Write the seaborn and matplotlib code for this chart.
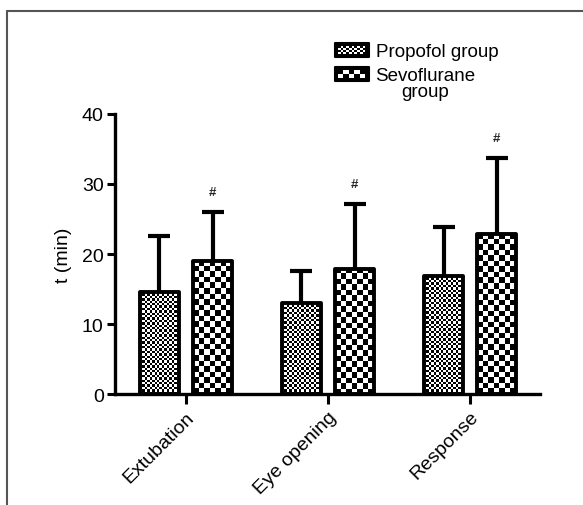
import numpy as np
import pandas as pd
import matplotlib
matplotlib.use("Agg")
import matplotlib.pyplot as plt
import seaborn as sns
from matplotlib.patches import Rectangle, Patch
from matplotlib.lines import Line2D
from matplotlib.legend_handler import HandlerBase

# ---- data ----
categories = ["Extubation", "Eye opening", "Response"]
groups = ["Propofol group", "Sevoflurane\ngroup"]
propofol_mean = [14.6, 13.0, 16.9]
propofol_sd = [8.0, 4.6, 7.0]
sevo_mean = [19.0, 17.9, 22.9]
sevo_sd = [7.0, 9.2, 10.8]
sig_marks = ["#", "#", "#"]
yticks = [0, 10, 20, 30, 40]

sns.set_theme(style="ticks")
plt.rcParams["font.family"] = ["Liberation Sans", "DejaVu Sans"]

df = pd.DataFrame({
    "Event": categories * 2,
    "Group": [groups[0]] * len(categories) + [groups[1]] * len(categories),
    "t": propofol_mean + sevo_mean,
})

fig = plt.figure(figsize=(5.83, 5.06), dpi=100)
fig.patch.set_facecolor("white")
ax = fig.add_axes([0.197, 0.219, 0.729, 0.554])

sns.barplot(data=df, x="Event", y="t", hue="Group", order=categories,
            hue_order=groups, palette=["white", "white"], width=0.75, gap=0.27,
            errorbar=None, edgecolor="black", linewidth=2.8, legend=False, ax=ax)

XLIM = (-0.5, 2.49)
ax.set_xlim(*XLIM)
ax.set_ylim(0, 40)

bars = list(ax.patches)
prop_bars = bars[:len(categories)]
sevo_bars = bars[len(categories):2 * len(categories)]


def checker_fill(patch, cell_px):
    x0, w = patch.get_x(), patch.get_width()
    y0, h = patch.get_y(), patch.get_height()
    (px0, py0), (px1, py1) = ax.transData.transform([(x0, y0), (x0 + w, y0 + h)])
    nx = max(1, int(round((px1 - px0) / cell_px)))
    ny = max(1, int(round((py1 - py0) / cell_px)))
    arr = np.add.outer(np.arange(ny), np.arange(nx)) % 2
    im = ax.imshow(arr, extent=(x0, x0 + w, y0, y0 + h), cmap="gray",
                   vmin=0, vmax=1, interpolation="nearest", aspect="auto",
                   origin="lower", zorder=0.8)
    im.set_clip_path(patch)
    patch.set_facecolor("none")
    patch.set_zorder(1.5)
    patch.set_joinstyle("round")


for p in prop_bars:
    checker_fill(p, 2.4)
for p in sevo_bars:
    checker_fill(p, 5.5)

ax.set_xlim(*XLIM)
ax.set_ylim(0, 40)

# upper-only error bars
for bset, sd in [(prop_bars, propofol_sd), (sevo_bars, sevo_sd)]:
    xs = [p.get_x() + p.get_width() / 2 for p in bset]
    ys = [p.get_height() for p in bset]
    cont = ax.errorbar(xs, ys, yerr=[np.zeros(len(sd)), sd], fmt="none",
                       ecolor="black", elinewidth=3.0, capsize=8, capthick=3.0,
                       zorder=3)
    for cl in cont[1]:
        if np.allclose(cl.get_ydata(), ys):
            cl.set_visible(False)
        else:
            cl.set_solid_capstyle("round")

# significance marks
for p, sd, m in zip(sevo_bars, sevo_sd, sig_marks):
    ax.annotate(m, (p.get_x() + p.get_width() / 2, p.get_height() + sd),
                xytext=(0, 10), textcoords="offset points", ha="center",
                va="bottom", fontsize=9.5, fontweight="bold")

# axes styling
for s in ["top", "right"]:
    ax.spines[s].set_visible(False)
for s in ["left", "bottom"]:
    ax.spines[s].set_linewidth(2.4)
    ax.spines[s].set_color("black")
ax.set_yticks(yticks)
ax.set_xticks(range(len(categories)))
ax.set_xticklabels(categories, rotation=45, ha="right", rotation_mode="anchor")
ax.tick_params(axis="both", colors="black", width=2.2, labelsize=14)
ax.tick_params(axis="y", length=6, pad=2)
ax.tick_params(axis="x", length=7, pad=3)
ax.set_xlabel("")
ax.set_ylabel("t (min)", fontsize=14, labelpad=7, color="black")


# legend with checker handles
class CheckerHandler(HandlerBase):
    def __init__(self, ncols, nrows, lift=0.0):
        super().__init__()
        self.ncols, self.nrows, self.lift = ncols, nrows, lift

    def create_artists(self, legend, orig_handle, xdescent, ydescent, width,
                       height, fontsize, trans):
        x0, y0 = -xdescent, -ydescent + self.lift
        arts = [Rectangle((x0, y0), width, height, facecolor="black",
                          edgecolor="black", lw=1.5, joinstyle="round",
                          transform=trans)]
        inset = 2.4
        cw = (width - 2 * inset) / self.ncols
        ch = (height - 2 * inset) / self.nrows
        for i in range(self.ncols):
            for j in range(self.nrows):
                if (i + j) % 2 == 0:
                    arts.append(Rectangle((x0 + inset + i * cw, y0 + inset + j * ch),
                                          cw, ch, facecolor="white", lw=0,
                                          transform=trans))
        return arts


h1 = Patch(label=groups[0])
h2 = Patch(label=groups[1])
leg = fig.legend(handles=[h1, h2], labels=groups,
                 handler_map={h1: CheckerHandler(10, 4), h2: CheckerHandler(5, 2, lift=6.6)},
                 loc="upper left", bbox_to_anchor=(0.574, 0.914), frameon=False,
                 fontsize=13.5, handlelength=1.81, handleheight=0.8,
                 handletextpad=0.37, labelspacing=0.35, borderpad=0, borderaxespad=0)
for t in leg.get_texts():
    t.set_multialignment("center")
    t.set_linespacing(0.95)
    t.set_color("black")

# outer frame of the figure panel
fig.add_artist(Line2D([7 / 583, 7 / 583], [0, 1 - 12 / 506], color="#555555",
                      lw=1.5, transform=fig.transFigure))
fig.add_artist(Line2D([7 / 583, 1], [1 - 12 / 506, 1 - 12 / 506], color="#555555",
                      lw=1.5, transform=fig.transFigure))

fig.savefig("out.png", dpi=100, facecolor="white")
